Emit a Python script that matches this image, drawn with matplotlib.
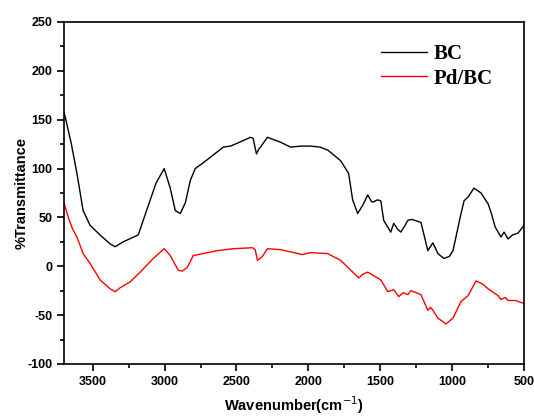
import numpy as np
import matplotlib.pyplot as plt
from matplotlib.ticker import MultipleLocator

plt.rcParams['axes.unicode_minus'] = False

# FTIR spectra, wavenumber (cm-1) vs %T
bc_x = [3700, 3690, 3675, 3650, 3610, 3567, 3519, 3449, 3380, 3344, 3289, 3184,
        3149, 3100, 3060, 3003, 2961, 2926, 2891, 2856, 2821, 2787, 2731, 2661,
        2591, 2542, 2494, 2403, 2385, 2361, 2345, 2333, 2285, 2194, 2124, 2050,
        1985, 1920, 1866, 1775, 1720, 1692, 1657, 1620, 1587, 1560, 1545, 1520,
        1496, 1476, 1427, 1406, 1380, 1357, 1335, 1308, 1280, 1240, 1217, 1169,
        1134, 1099, 1057, 1020, 994, 938, 917, 889, 848, 799, 750, 729, 700,
        660, 639, 611, 580, 541, 500]
bc_y = [157, 152, 142, 126, 95, 57, 42, 32, 23, 20, 25, 32,
        47, 68, 85, 100, 80, 57, 54, 65, 88, 100, 106, 114,
        122, 123, 126, 132, 131, 115, 120, 122, 132, 127, 122, 123,
        123, 122, 119, 108, 95, 68, 54, 63, 73, 66, 66, 68,
        67, 47, 35, 44, 38, 35, 40, 47, 48, 46, 45, 16,
        24, 13, 8, 10, 16, 54, 67, 71, 80, 75, 64, 55, 40,
        30, 35, 28, 32, 34, 42]

pd_x = [3700, 3690, 3670, 3640, 3610, 3567, 3519, 3449, 3379, 3344, 3310, 3240,
        3170, 3079, 3003, 2961, 2905, 2877, 2842, 2801, 2731, 2633, 2521, 2389,
        2370, 2354, 2320, 2285, 2194, 2101, 2043, 1985, 1866, 1775, 1705, 1650,
        1620, 1587, 1540, 1496, 1448, 1406, 1371, 1340, 1308, 1287, 1250, 1217,
        1169, 1150, 1134, 1099, 1043, 994, 938, 889, 834, 790, 750, 681, 660,
        630, 611, 560, 500]
pd_y = [64, 60, 50, 38, 30, 13, 3, -14, -23, -26, -22, -16,
        -6, 8, 18, 11, -4, -5, -1, 11, 13, 16, 18, 19,
        17, 6, 10, 18, 17, 14, 12, 14, 13, 6, -4, -12,
        -8, -6, -10, -14, -26, -24, -31, -27, -29, -25, -27, -29,
        -45, -42, -45, -53, -59, -53, -36, -30, -15, -18, -23, -30, -34,
        -32, -35, -35, -38]

fig = plt.figure(figsize=(5.34, 4.18), dpi=100)
ax = fig.add_axes([64 / 534, 1 - 364 / 418, 460 / 534, 342 / 418])

ax.plot(bc_x, bc_y, color='black', lw=1.0, label='BC')
ax.plot(pd_x, pd_y, color='red', lw=1.0, label='Pd/BC')

ax.set_xlim(3700, 500)
ax.set_ylim(-100, 250)
ax.xaxis.set_major_locator(MultipleLocator(500))
ax.xaxis.set_minor_locator(MultipleLocator(250))
ax.yaxis.set_major_locator(MultipleLocator(50))
ax.yaxis.set_minor_locator(MultipleLocator(25))
ax.tick_params(which='both', direction='out', top=False, right=False, width=1.2)
ax.tick_params(which='major', length=5, labelsize=9)
ax.tick_params(which='minor', length=3)
for lab in ax.get_xticklabels() + ax.get_yticklabels():
    lab.set_fontweight('bold')
    lab.set_family('Liberation Sans')
for s in ax.spines.values():
    s.set_linewidth(1.2)

ax.set_xlabel('Wavenumber(cm$^{-1}$)', fontsize=10.5, fontweight='bold',
              family='Liberation Sans', labelpad=5)
ax.set_ylabel('%Transmittance', fontsize=10.5, fontweight='bold',
              family='Liberation Sans', labelpad=-1)

leg = ax.legend(loc='upper right', bbox_to_anchor=(0.972, 0.99), frameon=False,
                prop={'family': 'Liberation Serif', 'weight': 'bold', 'size': 15},
                handlelength=2.2, handletextpad=0.3, labelspacing=0.22)

fig.savefig('out.png', dpi=100)
